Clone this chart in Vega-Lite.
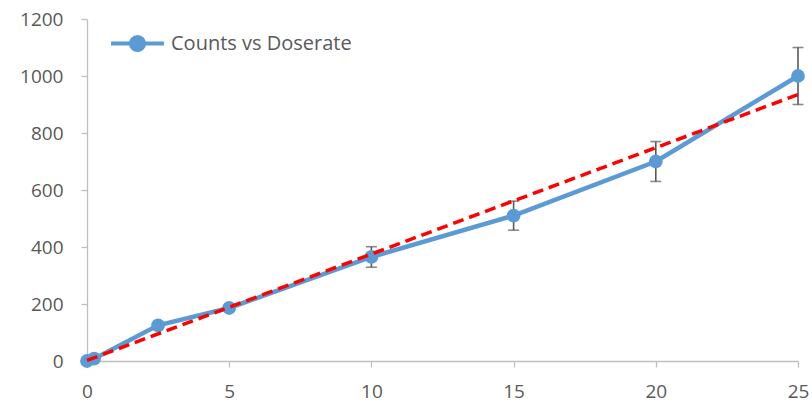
{
  "$schema": "https://vega.github.io/schema/vega-lite/v6.json",
  "width": 711,
  "height": 342,
  "autosize": {"type": "none"},
  "padding": {"left": 87, "top": 19, "right": 14, "bottom": 42},
  "background": "white",
  "config": {
    "view": {"stroke": null},
    "font": "Open Sans",
    "axis": {
      "grid": false,
      "domainColor": "#bfbfbf",
      "domainWidth": 1.3,
      "tickColor": "#bfbfbf",
      "tickWidth": 1.3,
      "tickSize": 6,
      "labelColor": "#595959",
      "labelFont": "Open Sans",
      "labelFontSize": 19
    }
  },
  "datasets": {
    "counts": [
      {"doserate": 0, "counts": 0},
      {"doserate": 0.25, "counts": 8},
      {"doserate": 2.5, "counts": 125},
      {"doserate": 5, "counts": 186},
      {"doserate": 10, "counts": 365},
      {"doserate": 15, "counts": 510},
      {"doserate": 20, "counts": 700},
      {"doserate": 25, "counts": 1000}
    ],
    "errors": [
      {"doserate": 10, "lo": 329, "hi": 401},
      {"doserate": 15, "lo": 459, "hi": 561},
      {"doserate": 20, "lo": 630, "hi": 770},
      {"doserate": 25, "lo": 900, "hi": 1100}
    ],
    "trend": [
      {"doserate": 0, "fit": 2},
      {"doserate": 25, "fit": 935}
    ]
  },
  "encoding": {
    "x": {
      "field": "doserate",
      "type": "quantitative",
      "scale": {"domain": [0, 25], "nice": false},
      "axis": {"title": null, "values": [0, 5, 10, 15, 20, 25], "labelPadding": 15, "labelFlush": false}
    }
  },
  "layer": [
    {
      "data": {"name": "errors"},
      "mark": {
        "type": "errorbar",
        "ticks": {"size": 11, "color": "#595959", "thickness": 1.6},
        "rule": {"color": "#595959", "strokeWidth": 1.6}
      },
      "encoding": {
        "y": {
          "field": "lo",
          "type": "quantitative",
          "scale": {"domain": [0, 1200], "nice": false},
          "axis": {"title": null, "values": [0, 200, 400, 600, 800, 1000, 1200], "format": "d", "labelPadding": 18}
        },
        "y2": {"field": "hi"}
      }
    },
    {
      "data": {"name": "counts"},
      "mark": {
        "type": "line",
        "strokeWidth": 4.5,
        "point": {"filled": true, "size": 190, "opacity": 1}
      },
      "encoding": {
        "y": {"field": "counts", "type": "quantitative", "title": null},
        "color": {
          "datum": "Counts vs Doserate",
          "type": "nominal",
          "scale": {"range": ["#5b9bd5"]},
          "legend": {
            "title": null,
            "orient": "none",
            "legendX": 22,
            "legendY": -4,
            "padding": 0,
            "labelFont": "Open Sans",
            "labelFontSize": 20,
            "labelColor": "#595959",
            "labelOffset": 5,
            "labelLimit": 400,
            "symbolType": "M-1,0L-0.25,0M0.25,0L1,0M-0.25,0A0.25,0.25 0 1,0 0.25,0A0.25,0.25 0 1,0 -0.25,0Z",
            "symbolSize": 2800,
            "symbolStrokeWidth": 4,
            "symbolFillColor": "#5b9bd5",
            "symbolStrokeColor": "#5b9bd5"
          }
        }
      }
    },
    {
      "data": {"name": "trend"},
      "mark": {"type": "line", "color": "#ff0000", "strokeWidth": 3.5, "strokeDash": [11, 6]},
      "encoding": {
        "y": {"field": "fit", "type": "quantitative", "title": null}
      }
    }
  ]
}
